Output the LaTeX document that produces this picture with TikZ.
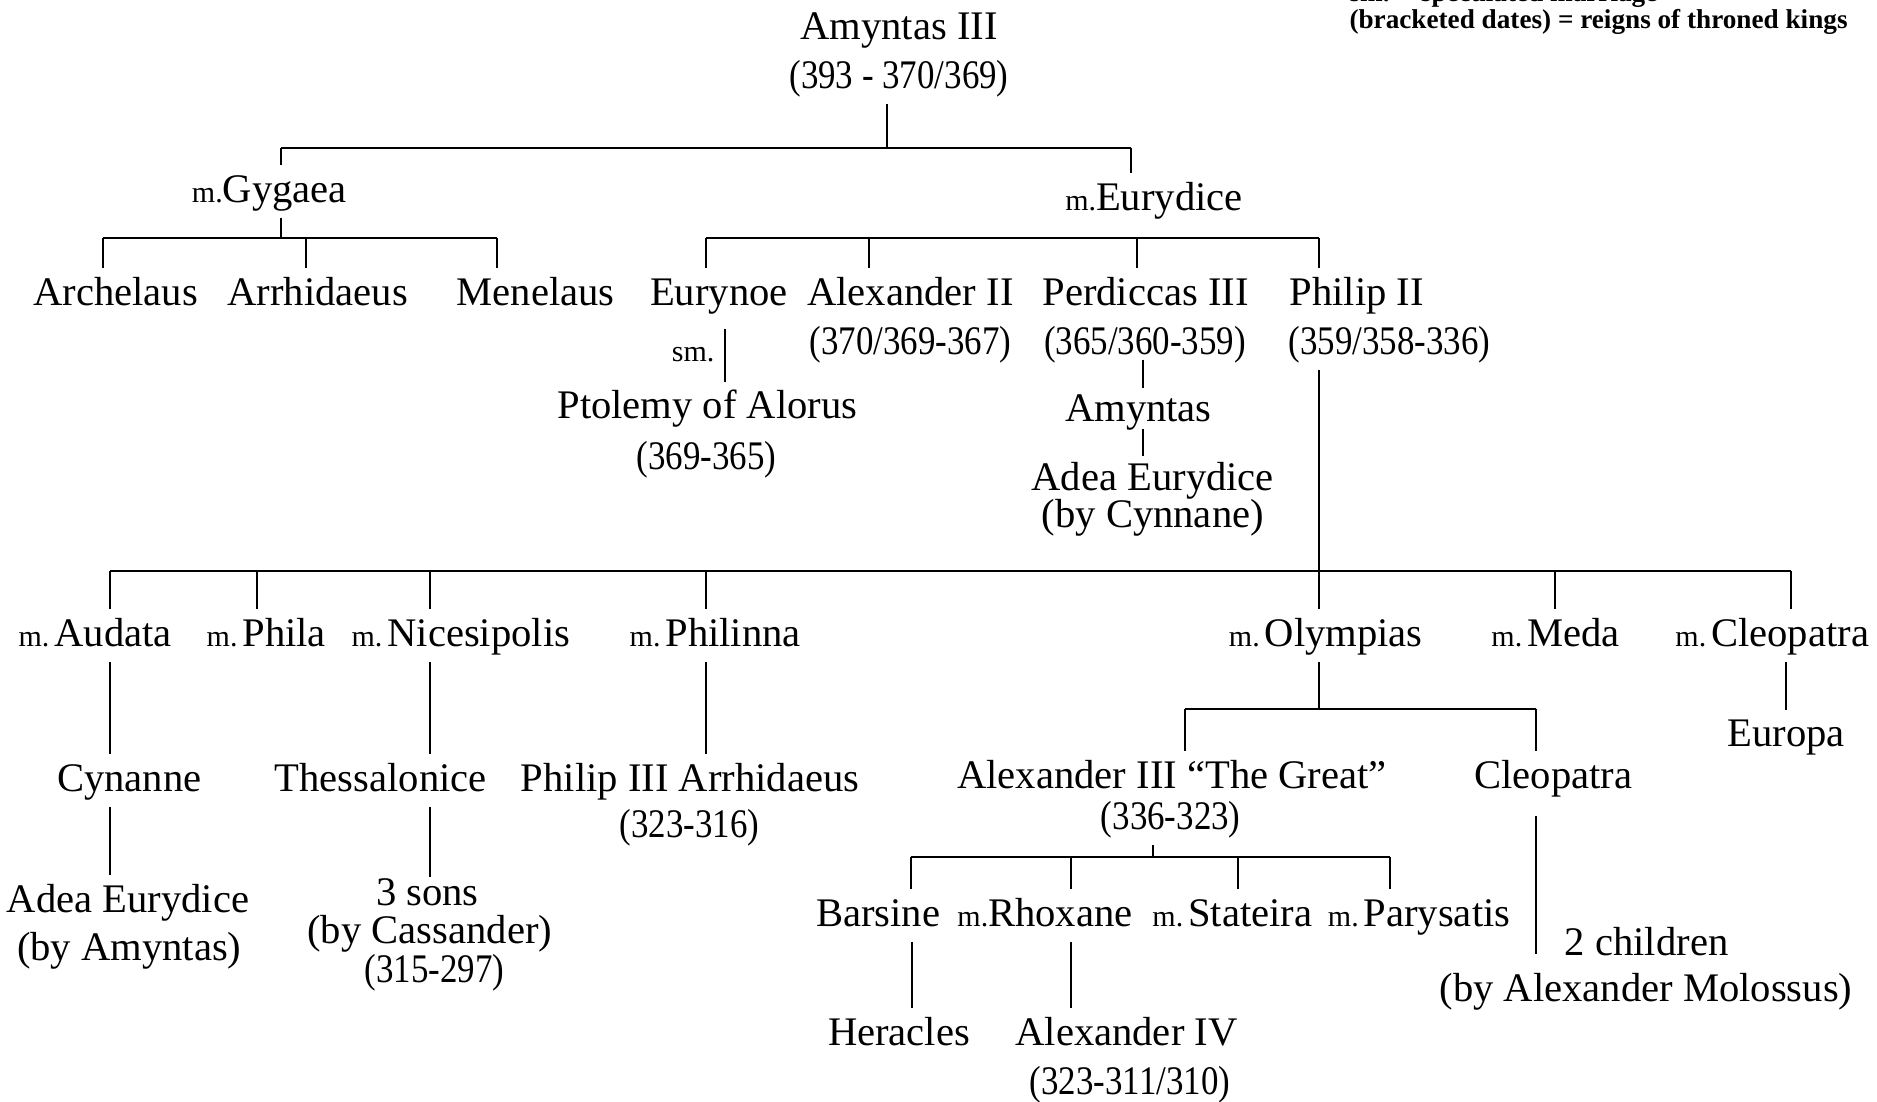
\documentclass[tikz,border=0pt]{standalone}
\usepackage{fontspec}
\setmainfont{Liberation Serif}
\newfontfamily\dfont[FakeStretch=0.86]{Liberation Serif}
\newcommand{\fs}{\fontsize{20.3}{24}\selectfont}
\newcommand{\mpre}{{\fontsize{15}{15}\selectfont m.}}
\newcommand{\ms}{{\fontsize{15}{15}\selectfont m.}\hspace{2.5pt}}
\newcommand{\lfont}{\bfseries\fontsize{13.6}{14}\selectfont}
\begin{document}
\begin{tikzpicture}[x=0.5985pt,y=-0.5985pt,
  nm/.style={inner xsep=0pt, inner ysep=2.5pt, text height=16pt, text depth=5pt, anchor=base, font=\fs},
  tight/.style={text height=13pt, text depth=4pt, inner ysep=1pt},
  dt/.style={nm, font={\dfont\fs}},
  ln/.style={line width=1pt}]
\useasboundingbox (0,0) rectangle (1568,920);

% legend
\node[anchor=base west, font=\lfont, inner sep=0pt] (leg1) at (1127,1) {sm. = speculated marriage};
\node[anchor=base west, font=\lfont, inner sep=0pt] (leg2) at (1127,24) {(bracketed dates) = reigns of throned kings};

% top
\node[nm] (am1) at (751,33) {Amyntas III};
\node[dt] (am2) at (751,74) {(393 - 370/369)};
\coordinate (j0) at (741,124);
\coordinate (j0l) at (235,124);
\coordinate (j0r) at (945,124);
\draw[ln] (am2.south -| j0) -- (j0);
\draw[ln] (j0l) -- (j0r);

\node[nm] (gyg) at (225,169) {\mpre Gygaea};
\node[nm] (eur) at (964,176) {\mpre Eurydice};
\draw[ln] (j0l) -- (gyg.north -| j0l);
\draw[ln] (j0r) -- (eur.north -| j0r);

% Gygaea's children
\coordinate (j1) at (235,199);
\coordinate (j1l) at (86,199);
\coordinate (j1m) at (256,199);
\coordinate (j1r) at (415,199);
\draw[ln] (gyg.south -| j1) -- (j1);
\draw[ln] (j1l) -- (j1r);
\node[nm] (arch) at (96.5,255) {Archelaus};
\node[nm] (arrh) at (265.5,255) {Arrhidaeus};
\node[nm] (mene) at (447.5,255) {Menelaus};
\draw[ln] (j1l) -- (arch.north -| j1l);
\draw[ln] (j1m) -- (arrh.north -| j1m);
\draw[ln] (j1r) -- (mene.north -| j1r);

% Eurydice's children
\coordinate (j2a) at (590,199);
\coordinate (j2b) at (726,199);
\coordinate (j2c) at (950,199);
\coordinate (j2d) at (1102,199);
\draw[ln] (j2a) -- (j2d);
\node[nm] (eyn) at (600.5,255) {Eurynoe};
\node[nm] (alx2) at (760.5,255) {Alexander II};
\node[nm] (per3) at (957,255) {Perdiccas III};
\node[nm,anchor=base west] (phl2) at (1077,255) {Philip II};
\draw[ln] (j2a) -- (eyn.north -| j2a);
\draw[ln] (j2b) -- (alx2.north -| j2b);
\draw[ln] (j2c) -- (per3.north -| j2c);
\draw[ln] (j2d) -- (phl2.north -| j2d);
\node[dt] (alx2d) at (760.5,296) {(370/369-367)};
\node[dt] (per3d) at (956.5,296) {(365/360-359)};
\node[dt,anchor=base west] (phl2d) at (1076,296) {(359/358-336)};

% Eurynoe
\node[anchor=base, inner sep=0pt, font={\fontsize{15}{15}\selectfont}] (sm) at (579,302) {sm.};
\coordinate (xsm) at (606,0);
\node[nm] (ptol) at (591,350) {Ptolemy of Alorus};
\node[dt] (ptold) at (590,392) {(369-365)};
\draw[ln, shorten <=4pt] (eyn.south -| xsm) -- (ptol.north -| xsm);

% Perdiccas
\coordinate (xper) at (955,0);
\node[nm] (amy) at (951,352) {Amyntas};
\node[nm,tight] (adea1) at (963,410) {Adea Eurydice};
\node[nm,tight] (adea1b) at (963,441) {(by Cynnane)};
\draw[ln, shorten <=-5pt, shorten >=-2pt] (per3d.south -| xper) -- (amy.north -| xper);
\draw[ln, shorten <=-4pt, shorten >=3pt] (amy.south -| xper) -- (adea1.north -| xper);

% Philip II's wives
\coordinate (j3) at (1102,477);
\coordinate (j3l) at (92,477);
\coordinate (j3r) at (1496,477);
\coordinate (j3b) at (215,477);
\coordinate (j3c) at (359,477);
\coordinate (j3d) at (590,477);
\coordinate (j3f) at (1299,477);
\draw[ln] (j3l) -- (j3r);
\node[nm] (aud) at (79.5,540) {\ms Audata};
\node[nm] (phla) at (222.5,540) {\ms Phila};
\node[nm] (nic) at (385,540) {\ms Nicesipolis};
\node[nm] (phn) at (597.5,540) {\ms Philinna};
\node[nm] (oly) at (1107.5,540) {\ms Olympias};
\node[nm] (med) at (1299.5,540) {\ms Meda};
\node[nm] (cle2) at (1480.5,540) {\ms Cleopatra};
\draw[ln] (phl2d.south -| j3) -- (oly.north -| j3);
\draw[ln] (j3l) -- (aud.north -| j3l);
\draw[ln] (j3b) -- (phla.north -| j3b);
\draw[ln] (j3c) -- (nic.north -| j3c);
\draw[ln] (j3d) -- (phn.north -| j3d);
\draw[ln] (j3f) -- (med.north -| j3f);
\draw[ln] (j3r) -- (cle2.north -| j3r);

% Audata
\node[nm] (cyn) at (108,661) {Cynanne};
\node[nm] (adea2) at (107,762) {Adea Eurydice};
\node[nm] (adea2b) at (108,802) {(by Amyntas)};
\draw[ln] (aud.south -| j3l) -- (cyn.north -| j3l);
\draw[ln] (cyn.south -| j3l) -- (adea2.north -| j3l);

% Nicesipolis
\node[nm] (thes) at (318,661) {Thessalonice};
\node[nm,tight] (sons) at (357,756) {3 sons};
\node[nm,tight] (cass) at (359,788) {(by Cassander)};
\node[dt,tight] (sonsd) at (363,821) {(315-297)};
\draw[ln] (nic.south -| j3c) -- (thes.north -| j3c);
\draw[ln] (thes.south -| j3c) -- (sons.north -| j3c);

% Philinna
\node[nm] (ph3) at (576.5,661) {Philip III Arrhidaeus};
\node[dt] (ph3d) at (576,700) {(323-316)};
\draw[ln] (phn.south -| j3d) -- (ph3.north -| j3d);

% Olympias
\coordinate (j4) at (1102,592);
\coordinate (j4l) at (990,592);
\coordinate (j4r) at (1283,592);
\draw[ln] (oly.south -| j4) -- (j4);
\draw[ln] (j4l) -- (j4r);
\node[nm] (alx3) at (979,659) {Alexander III “The Great”};
\node[dt] (alx3d) at (978,693) {(336-323)};
\node[nm] (cleo) at (1297.5,659) {Cleopatra};
\draw[ln] (j4l) -- (alx3.north -| j4l);
\draw[ln] (j4r) -- (cleo.north -| j4r);

% Alexander III's wives
\coordinate (j5) at (963,716);
\coordinate (j5a) at (761,716);
\coordinate (j5b) at (895,716);
\coordinate (j5c) at (1034,716);
\coordinate (j5d) at (1161,716);
\draw[ln] (alx3d.south -| j5) -- (j5);
\draw[ln] (j5a) -- (j5d);
\node[nm] (bars) at (733.5,774) {Barsine};
\node[nm] (rhox) at (873,774) {\mpre Rhoxane};
\node[nm] (stat) at (1029.5,774) {\ms Stateira};
\node[nm] (pary) at (1185.5,774) {\ms Parysatis};
\draw[ln] (j5a) -- (bars.north -| j5a);
\draw[ln] (j5b) -- (rhox.north -| j5b);
\draw[ln] (j5c) -- (stat.north -| j5c);
\draw[ln] (j5d) -- (pary.north -| j5d);

\coordinate (xbar) at (762,0);
\node[nm] (hera) at (751,873) {Heracles};
\draw[ln] (bars.south -| xbar) -- (hera.north -| xbar);
\node[nm] (alx4) at (941,873) {Alexander IV};
\node[dt] (alx4d) at (944,914) {(323-311/310)};
\draw[ln] (rhox.south -| j5b) -- (alx4.north -| j5b);

% Cleopatra (daughter)
\coordinate (cend) at (1283,797);
\draw[ln, shorten <=6pt] (cleo.south -| j4r) -- (cend);
\node[nm] (chl) at (1375.5,798) {2 children};
\node[nm] (chlb) at (1375,837) {(by Alexander Molossus)};

% Cleopatra (wife)
\coordinate (xcl) at (1492,0);
\node[nm] (euro) at (1492,624) {Europa};
\draw[ln] (cle2.south -| xcl) -- (euro.north -| xcl);
\end{tikzpicture}
\end{document}
